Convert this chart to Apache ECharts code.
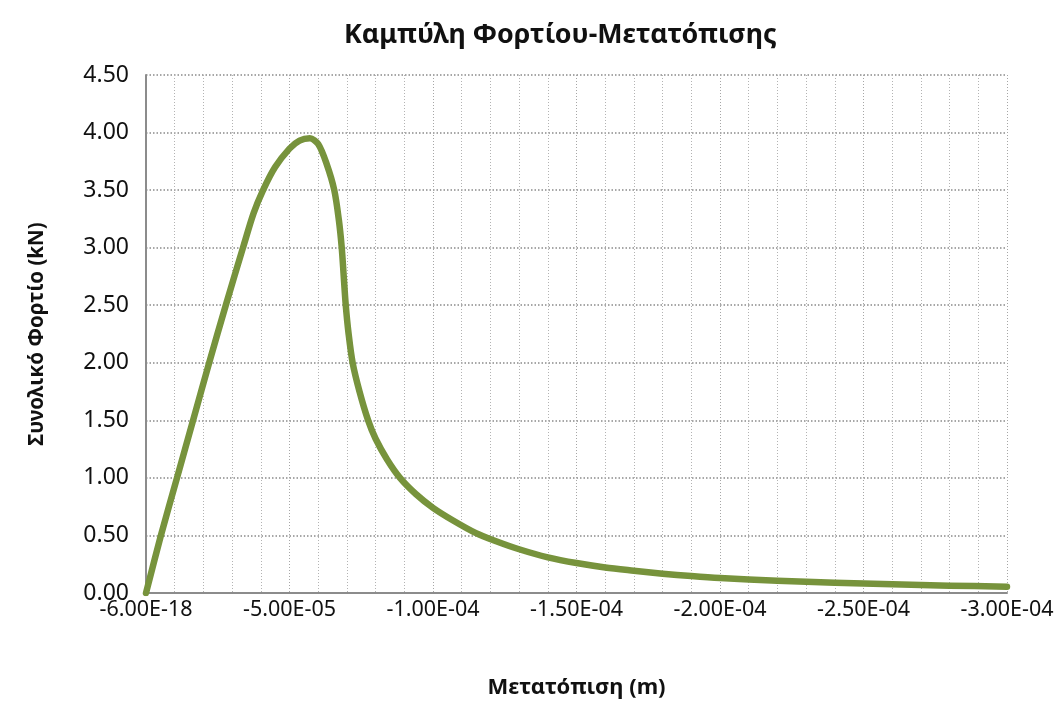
<!DOCTYPE html>
<html>
<head>
<meta charset="utf-8">
<title>Καμπύλη Φορτίου-Μετατόπισης</title>
<script src="https://cdn.jsdelivr.net/npm/echarts@6/dist/echarts.min.js"></script>
<style>
  html, body { margin: 0; padding: 0; background: #fff; }
  #chart { width: 1064px; height: 704px; }
</style>
</head>
<body>
<div id="chart"></div>
<script>
// Displacement (m) and total load (kN) along the load-displacement curve
const displacement = [
  0, -0.52e-5, -1.08e-5, -1.64e-5, -2.2e-5, -2.78e-5, -3.38e-5, -3.75e-5,
  -4.08e-5, -4.5e-5, -5.0e-5, -5.35e-5, -5.71e-5, -6.0e-5, -6.29e-5, -6.56e-5,
  -6.72e-5, -6.82e-5, -6.89e-5, -6.96e-5, -7.06e-5, -7.2e-5, -7.44e-5, -7.74e-5,
  -8.0e-5, -8.4e-5, -8.85e-5, -9.4e-5, -1.0e-4, -1.07e-4, -1.15e-4, -1.22e-4,
  -1.3e-4, -1.4e-4, -1.5e-4, -1.6e-4, -1.7e-4, -1.8e-4, -1.9e-4, -2.0e-4,
  -2.2e-4, -2.4e-4, -2.6e-4, -2.8e-4, -3.0e-4
];
const load = [
  0, 0.5, 1.0, 1.5, 2.0, 2.5, 3.0, 3.3,
  3.5, 3.7, 3.86, 3.93, 3.95, 3.9, 3.73, 3.5,
  3.24, 3.0, 2.75, 2.5, 2.25, 2.0, 1.75, 1.5,
  1.34, 1.16, 1.0, 0.86, 0.74, 0.63, 0.52, 0.45,
  0.38, 0.31, 0.26, 0.222, 0.194, 0.168, 0.147, 0.13,
  0.107, 0.09, 0.076, 0.064, 0.055
];

// Axis tick labels
const xTickLabels = ['-6.00E-18', '-5.00E-05', '-1.00E-04', '-1.50E-04', '-2.00E-04', '-2.50E-04', '-3.00E-04'];
const yTickLabels = ['0.00', '0.50', '1.00', '1.50', '2.00', '2.50', '3.00', '3.50', '4.00', '4.50'];

const titleText = 'Καμπύλη Φορτίου-Μετατόπισης';
const xAxisName = 'Μετατόπιση (m)';
const yAxisName = 'Συνολικό Φορτίο (kN)';

const FONT = '"Noto Sans", "Open Sans", sans-serif';
const X_STEP = 5e-5;
const Y_STEP = 0.5;

const points = displacement.map((x, i) => [x, load[i]]);

const chart = echarts.init(document.getElementById('chart'), null, { renderer: 'canvas' });

chart.setOption({
  backgroundColor: '#ffffff',
  animation: false,
  title: {
    text: titleText,
    left: 339,
    top: 17,
    textStyle: { fontFamily: FONT, fontSize: 26.8, fontWeight: 'bold', color: '#111' }
  },
  grid: { left: 146, right: 57, top: 75, bottom: 111, containLabel: false },
  xAxis: {
    type: 'value',
    min: -3e-4,
    max: 0,
    interval: X_STEP,
    inverse: true,
    name: xAxisName,
    nameLocation: 'middle',
    nameGap: 84,
    nameTextStyle: { fontFamily: FONT, fontSize: 22, fontWeight: 'bold', color: '#111' },
    axisLine: { show: true, onZero: false, lineStyle: { color: '#8c8c8c', width: 2 } },
    axisTick: { show: false },
    minorTick: { show: false, splitNumber: 5 },
    axisLabel: {
      show: true,
      showMinLabel: true,
      showMaxLabel: true,
      margin: 6,
      fontFamily: FONT,
      fontSize: 21.5,
      color: '#111',
      formatter: v => xTickLabels[Math.round(-v / X_STEP)]
    },
    splitLine: { show: true, lineStyle: { color: '#a6a6a6', width: 1, type: [1, 2] } },
    minorSplitLine: { show: true, lineStyle: { color: '#b3b3b3', width: 1, type: [1, 2] } }
  },
  yAxis: {
    type: 'value',
    min: 0,
    max: 4.5,
    interval: Y_STEP,
    name: yAxisName,
    nameLocation: 'middle',
    nameGap: 98,
    nameTextStyle: { fontFamily: FONT, fontSize: 20.5, fontWeight: 'bold', color: '#111' },
    axisLine: { show: true, lineStyle: { color: '#8c8c8c', width: 2 } },
    axisTick: { show: false },
    axisLabel: {
      margin: 17,
      fontFamily: FONT,
      fontSize: 23,
      color: '#111',
      formatter: v => yTickLabels[Math.round(v / Y_STEP)]
    },
    splitLine: { show: true, lineStyle: { color: '#8a8a8a', width: 1.5, type: [1.5, 2] } }
  },
  series: [{
    type: 'line',
    data: points,
    smooth: 0.3,
    showSymbol: false,
    lineStyle: { color: '#77933c', width: 6.5, join: 'round', cap: 'round' },
    itemStyle: { color: '#77933c' }
  }]
});
</script>
</body>
</html>
